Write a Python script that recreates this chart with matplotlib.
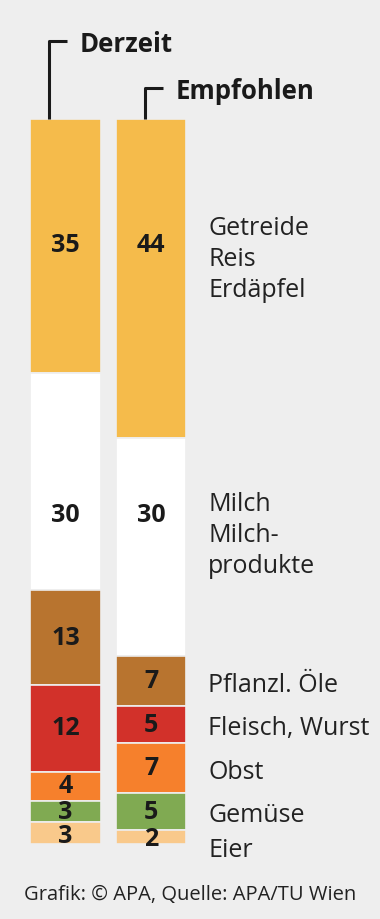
import matplotlib
matplotlib.use("Agg")
import matplotlib.pyplot as plt
import numpy as np

# Daten: Anteile in Prozent, von oben nach unten
kategorien = ["Getreide\nReis\nErdäpfel", "Milch\nMilch-\nprodukte", "Pflanzl. Öle",
              "Fleisch, Wurst", "Obst", "Gemüse", "Eier"]
derzeit = [35, 30, 13, 12, 4, 3, 3]
empfohlen = [44, 30, 7, 5, 7, 5, 2]
spalten = ["Derzeit", "Empfohlen"]
farben = ["#f5bb4b", "#ffffff", "#b8742f", "#d2312a", "#f6802c", "#80aa52", "#f9c98b"]

BG = "#eeeeee"
schrift = ["Liberation Sans Narrow", "Open Sans", "DejaVu Sans"]

fig = plt.figure(figsize=(3.8, 9.2), dpi=100, facecolor=BG)
ax = fig.add_axes([0, (920 - 845) / 920, 1, 725 / 920])
ax.set_facecolor(BG)
ax.set_xlim(-0.766, 3.678)
ax.set_ylim(100, 0)
ax.axis("off")

breite = 0.83
werte = [derzeit, empfohlen]
mitten = []
for i, serie in enumerate(werte):
    oben = np.concatenate([[0], np.cumsum(serie)[:-1]])
    ax.bar([i] * len(serie), serie, bottom=oben, width=breite, color=farben,
           edgecolor=BG, linewidth=1.2)
    mitten.append(oben + np.array(serie) / 2)

# gemeinsame Zeilenhöhe für die zwei großen Gruppen
zeilen = [mitten[0].copy(), mitten[1].copy()]
for k in (0, 1):
    gemeinsam = (mitten[0][k] + mitten[1][k]) / 2
    zeilen[0][k] = gemeinsam
    zeilen[1][k] = gemeinsam
zeilen[0][0] -= 2.5
zeilen[1][0] -= 2.5

for i, serie in enumerate(werte):
    for k, v in enumerate(serie):
        y = zeilen[i][k]
        if k == len(serie) - 1:
            y += 0.3
        ax.text(i, y, str(v), ha="center", va="center", fontsize=18,
                fontweight="bold", color="#1a1a1a", family=schrift)

# Beschriftungen rechts
for k, name in enumerate(kategorien):
    y = zeilen[1][k]
    if k == 0:
        y += 2.0
    elif k == 1:
        y += 2.8
    else:
        y += 0.45
    if k == len(kategorien) - 1:
        y += 1.3
    ax.text(1.67, y, name, ha="left", va="center", fontsize=18,
            color="#222222", linespacing=1.3, family=schrift)

# Spaltenköpfe mit Klammern
px = 100 / 725
kopf = [(49, 42, 67, 80), (145, 89, 163, 176)]
for (x0, y0, x1, xt), titel in zip(kopf, spalten):
    xa = (x0 - 65.5) / 85.5
    xb = (x1 - 65.5) / 85.5
    ya = (y0 - 120) * px
    ax.plot([xa, xa, xb], [0, ya, ya], color="#1a1a1a", lw=2.2,
            clip_on=False, solid_capstyle="butt")
    ax.text((xt - 65.5) / 85.5, ya + 0.3, titel, ha="left", va="center",
            fontsize=18.5, fontweight="bold", color="#1a1a1a", family=schrift)

fig.text(0.5, 1 - 895 / 920, "Grafik: © APA, Quelle: APA/TU Wien", ha="center",
         va="center", fontsize=14.5, color="#222222", family=schrift)

fig.savefig("out.png", dpi=100, facecolor=BG)
